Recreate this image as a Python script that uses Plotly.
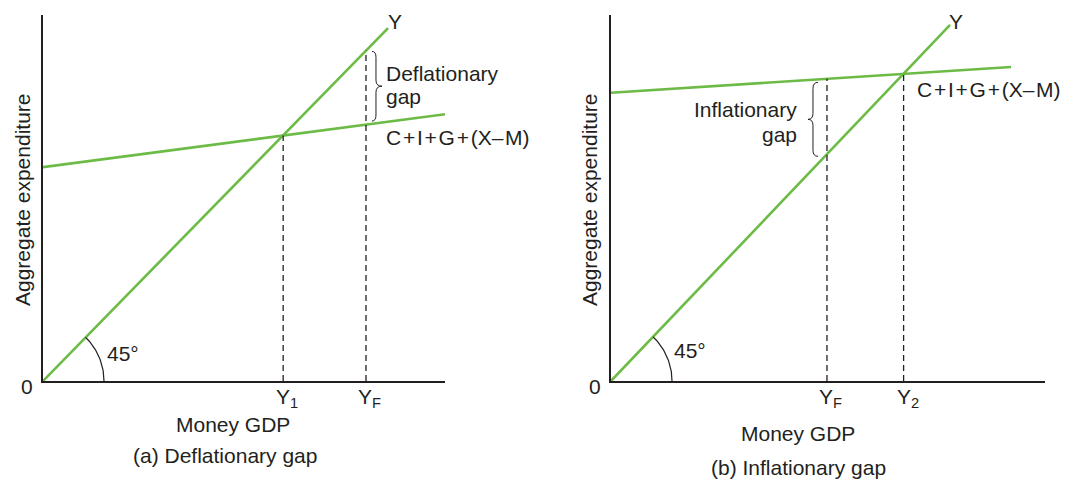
import numpy as np
import plotly.graph_objects as go

W, H = 1075, 479
GREEN = "#6dbb47"
INK = "#231f20"
FONT = "Liberation Sans, Arial, sans-serif"
FS = 21

# ---------------- data (panel a: deflationary gap) ----------------
a_y_line_x = [0, 100]
a_y_line_y = [0, 100]
a_ae_x = [0, 116.5]
a_ae_y = [60.6, 75.6]
a_y1 = 69.6          # equilibrium income
a_yf = 93.6          # full-employment income
a_x_max, a_y_max = 116.5, 103.7

# ---------------- data (panel b: inflationary gap) ----------------
b_y_line_x = [0, 100]
b_y_line_y = [0, 100]
b_ae_x = [0, 118.0]
b_ae_y = [80.96, 88.2]
b_yf = 63.7
b_y2 = 86.3
b_x_max, b_y_max = 128.0, 102.8

# tick labels
a_ticks = ["Y<sub>1</sub>", "Y<sub>F</sub>"]
b_ticks = ["Y<sub>F</sub>", "Y<sub>2</sub>"]


def ae_at(xs, ys, x):
    return ys[0] + (ys[1] - ys[0]) / (xs[1] - xs[0]) * x


# pixel layout of plot areas
A_PX = (43, 445)
B_PX = (611, 1045)
Y_PX = (381, 15)

fig = go.Figure()


def px_x(p):
    return p / W


def px_y(p):
    return 1 - p / H


def add_panel(xa, ya, yl_x, yl_y, ae_x, ae_y, dashes, xmax, ymax, xpx):
    fig.add_trace(go.Scatter(x=yl_x, y=yl_y, mode="lines", xaxis=xa, yaxis=ya,
                             line=dict(color=GREEN, width=2.6), hoverinfo="skip"))
    fig.add_trace(go.Scatter(x=ae_x, y=ae_y, mode="lines", xaxis=xa, yaxis=ya,
                             line=dict(color=GREEN, width=2.6), hoverinfo="skip"))
    for (xv, top) in dashes:
        fig.add_trace(go.Scatter(x=[xv, xv], y=[0, top], mode="lines", xaxis=xa, yaxis=ya,
                                 line=dict(color=INK, width=1.3, dash="6px,4px"),
                                 hoverinfo="skip"))
    sx = (xpx[1] - xpx[0]) / xmax
    sy = (Y_PX[0] - Y_PX[1]) / ymax
    ang = np.arctan2(yl_y[1] * sy, yl_x[1] * sx)
    t = np.linspace(0, ang, 40)
    r = 61
    fig.add_trace(go.Scatter(x=r * np.cos(t) / sx, y=r * np.sin(t) / sy, mode="lines",
                             xaxis=xa, yaxis=ya, line=dict(color=INK, width=1.2),
                             hoverinfo="skip"))
    return sx, sy


sxa, sya = add_panel("x", "y", a_y_line_x, a_y_line_y, a_ae_x, a_ae_y,
                     [(a_y1, ae_at(a_ae_x, a_ae_y, a_y1)), (a_yf, a_yf)],
                     a_x_max, a_y_max, A_PX)
sxb, syb = add_panel("x2", "y2", b_y_line_x, b_y_line_y, b_ae_x, b_ae_y,
                     [(b_yf, ae_at(b_ae_x, b_ae_y, b_yf)), (b_y2, b_y2)],
                     b_x_max, b_y_max, B_PX)


def brace_path(xv, xt, xe, ytop, ybot, d):
    ym = (ytop + ybot) / 2
    return (f"M {xe},{ytop} Q {xv},{ytop} {xv},{ytop - d} "
            f"L {xv},{ym + d} Q {xv},{ym} {xt},{ym} "
            f"Q {xv},{ym} {xv},{ym - d} "
            f"L {xv},{ybot + d} Q {xv},{ybot} {xe},{ybot}")


ya_top = a_yf - 0.2
ya_bot = ae_at(a_ae_x, a_ae_y, a_yf) + 1.0
fig.add_shape(type="path", xref="x", yref="y",
              path=brace_path(a_yf + 10 / sxa, a_yf + 16 / sxa, a_yf + 6 / sxa,
                              ya_top, ya_bot, 6 / sya),
              line=dict(color=INK, width=1))
yb_top = ae_at(b_ae_x, b_ae_y, b_yf) - 1.0
yb_bot = b_yf - 0.6
fig.add_shape(type="path", xref="x2", yref="y2",
              path=brace_path(b_yf - 14 / sxb, b_yf - 19 / sxb, b_yf - 9 / sxb,
                              yb_top, yb_bot, 6 / syb),
              line=dict(color=INK, width=1))

axis_common = dict(showgrid=False, zeroline=False, showticklabels=False, ticks="",
                   showline=True, linecolor=INK, linewidth=1.5, fixedrange=True)
fig.update_layout(
    width=W, height=H, margin=dict(l=0, r=0, t=0, b=0),
    paper_bgcolor="white", plot_bgcolor="white", showlegend=False,
    font=dict(family=FONT, size=FS, color=INK),
    xaxis=dict(domain=[px_x(A_PX[0]), px_x(A_PX[1])], range=[0, a_x_max], anchor="y",
               **axis_common),
    yaxis=dict(domain=[px_y(Y_PX[0]), px_y(Y_PX[1])], range=[0, a_y_max], anchor="x",
               **axis_common),
    xaxis2=dict(domain=[px_x(B_PX[0]), px_x(B_PX[1])], range=[0, b_x_max], anchor="y2",
                **axis_common),
    yaxis2=dict(domain=[px_y(Y_PX[0]), px_y(Y_PX[1])], range=[0, b_y_max], anchor="x2",
                **axis_common),
)

ann = []


def txt(text, x, y, xanchor="center", angle=0, xref="paper", xshift=0):
    ann.append(dict(text=text, x=x if xref != "paper" else px_x(x), y=px_y(y),
                    xref=xref, yref="paper", xanchor=xanchor, yanchor="middle",
                    showarrow=False, textangle=angle, xshift=xshift,
                    font=dict(family=FONT, size=FS, color=INK)))


SP = "\u200a"
CIG = f"C{SP}+{SP}I{SP}+{SP}G{SP}+{SP}(X–{SP}M)"

# panel a
txt("Y", 395, 22)
txt("Deflationary", 384, 73, "left")
txt("gap", 384, 97, "left")
txt(CIG, 384, 138, "left")
txt("45°", 105, 353, "left")
txt("0", 27, 386)
txt("Money GDP", 233, 424)
txt("(a) Deflationary gap", 225, 455)
txt("Aggregate expenditure", 22, 200, angle=-90)
for v, lab in zip([a_y1, a_yf], a_ticks):
    txt(lab, v, 398, xref="x", xshift=4)

# panel b
txt("Y", 956, 22)
txt("Inflationary", 799, 110, "right")
txt("gap", 799, 135, "right")
txt(CIG, 915, 89, "left")
txt("45°", 672, 350, "left")
txt("0", 595, 386)
txt("Money GDP", 798, 433)
txt("(b) Inflationary gap", 798, 467)
txt("Aggregate expenditure", 589, 200, angle=-90)
for v, lab in zip([b_yf, b_y2], b_ticks):
    txt(lab, v, 398, xref="x2", xshift=4)

fig.update_layout(annotations=ann)
fig.write_html("out.html", config={"displayModeBar": False},
               post_script="document.body.style.margin='0';document.body.style.overflow='hidden';")
